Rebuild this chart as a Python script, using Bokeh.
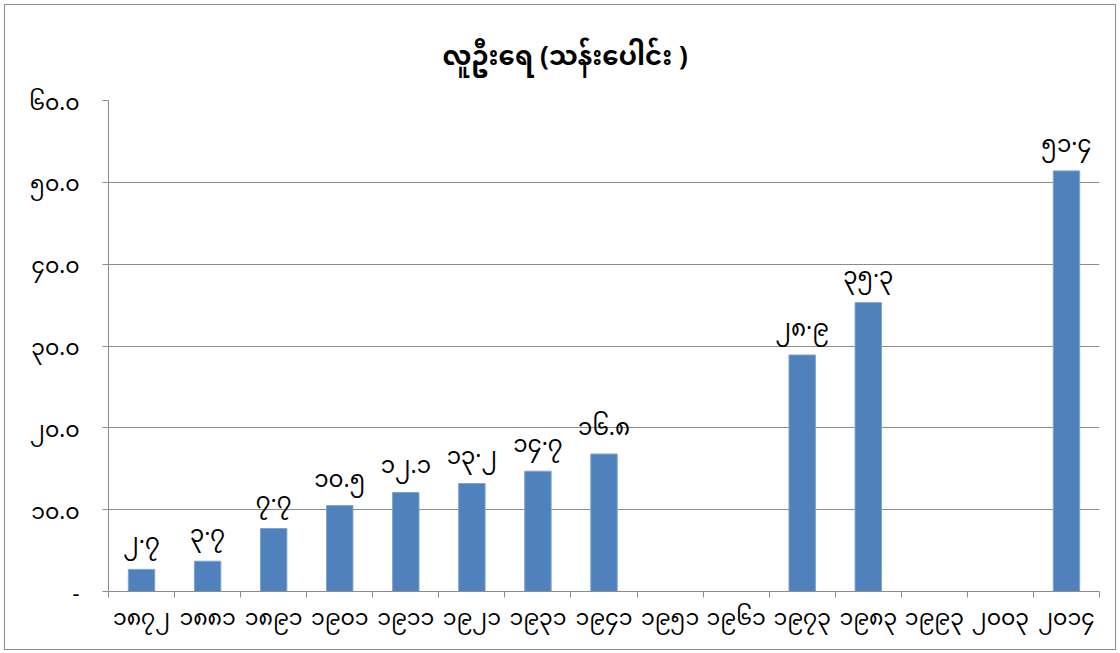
from bokeh.plotting import figure
from bokeh.models import ColumnDataSource, FixedTicker, Range1d
from bokeh.core.properties import value
from bokeh.embed import file_html
from bokeh.resources import INLINE

title_text = "လူဦးရေ (သန်းပေါင်း )"
years = ["၁၈၇၂", "၁၈၈၁", "၁၈၉၁", "၁၉၀၁", "၁၉၁၁", "၁၉၂၁", "၁၉၃၁", "၁၉၄၁",
         "၁၉၅၁", "၁၉၆၁", "၁၉၇၃", "၁၉၈၃", "၁၉၉၃", "၂၀၀၃", "၂၀၁၄"]
population = [2.7, 3.7, 7.7, 10.5, 12.1, 13.2, 14.7, 16.8,
              None, None, 28.9, 35.3, None, None, 51.4]
value_labels = ["၂·၇", "၃·၇", "၇·၇", "၁၀.၅", "၁၂.၁", "၁၃·၂", "၁၄·၇", "၁၆.၈",
                "", "", "၂၈·၉", "၃၅·၃", "", "", "၅၁·၄"]
y_ticks = [0, 10, 20, 30, 40, 50, 60]
y_tick_labels = ["-", "၁၀.၀", "၂၀.၀", "၃၀.၀", "၄၀.၀", "၅၀.၀", "၆၀.၀"]

FONT = "'Noto Sans', 'Noto Sans Myanmar', 'Myanmar Text', 'Padauk', sans-serif"
GRAY = "#8c8c8c"
BLUE = "#4f81bd"

idx = [i for i, v in enumerate(population) if v is not None]
src = ColumnDataSource(dict(
    x=[i + 0.5 for i in idx],
    top=[population[i] for i in idx],
    lab=[value_labels[i] for i in idx],
))

p = figure(width=1112, height=646, output_backend="svg", toolbar_location=None,
           x_range=Range1d(0, len(years)), y_range=Range1d(0, 60),
           min_border_left=103, min_border_right=18, min_border_top=95, min_border_bottom=60)

p.title.text = title_text
p.title.align = "left"
p.title.offset = 334
p.title.text_font = FONT
p.title.text_font_size = "26px"
p.title.text_font_style = "bold"
p.title.text_color = "black"
p.title.standoff = 55

p.vbar(x="x", top="top", width=0.4, bottom=0, source=src,
       fill_color=BLUE, line_color="#7fa3d0", line_width=1)
p.text(x="x", y="top", text="lab", source=src, text_align="center",
       text_baseline="bottom", y_offset=-12, text_font=value(FONT),
       text_font_size="23px", text_color="black")

# x axis: labels at category centres, ticks at category boundaries
xt = FixedTicker(ticks=[i + 0.5 for i in range(len(years))],
                 minor_ticks=list(range(len(years) + 1)))
p.xaxis.ticker = xt
p.xaxis.major_label_overrides = {i + 0.5: y for i, y in enumerate(years)}
p.xaxis.major_tick_in = 0
p.xaxis.major_tick_out = 0
p.xaxis.minor_tick_in = 0
p.xaxis.minor_tick_out = 6
p.xaxis.minor_tick_line_color = GRAY
p.xaxis.axis_line_color = GRAY
p.xaxis.major_label_text_font = FONT
p.xaxis.major_label_text_font_size = "22px"
p.xaxis.major_label_text_color = "black"
p.xaxis.major_label_standoff = 3

p.yaxis.ticker = FixedTicker(ticks=y_ticks)
p.yaxis.major_label_overrides = {t: l for t, l in zip(y_ticks, y_tick_labels)}
p.yaxis.major_tick_in = 0
p.yaxis.major_tick_out = 6
p.yaxis.minor_tick_line_color = None
p.yaxis.major_tick_line_color = GRAY
p.yaxis.axis_line_color = GRAY
p.yaxis.major_label_text_font = FONT
p.yaxis.major_label_text_font_size = "22px"
p.yaxis.major_label_text_color = "black"
p.yaxis.major_label_standoff = 23

p.xgrid.grid_line_color = None
p.ygrid.grid_line_color = GRAY
p.ygrid.grid_line_width = 1
p.outline_line_color = None
p.styles = {"border": "1px solid #8c8c8c", "margin": "4px 0 0 4px"}

open("out.html", "w").write(file_html(p, INLINE))
